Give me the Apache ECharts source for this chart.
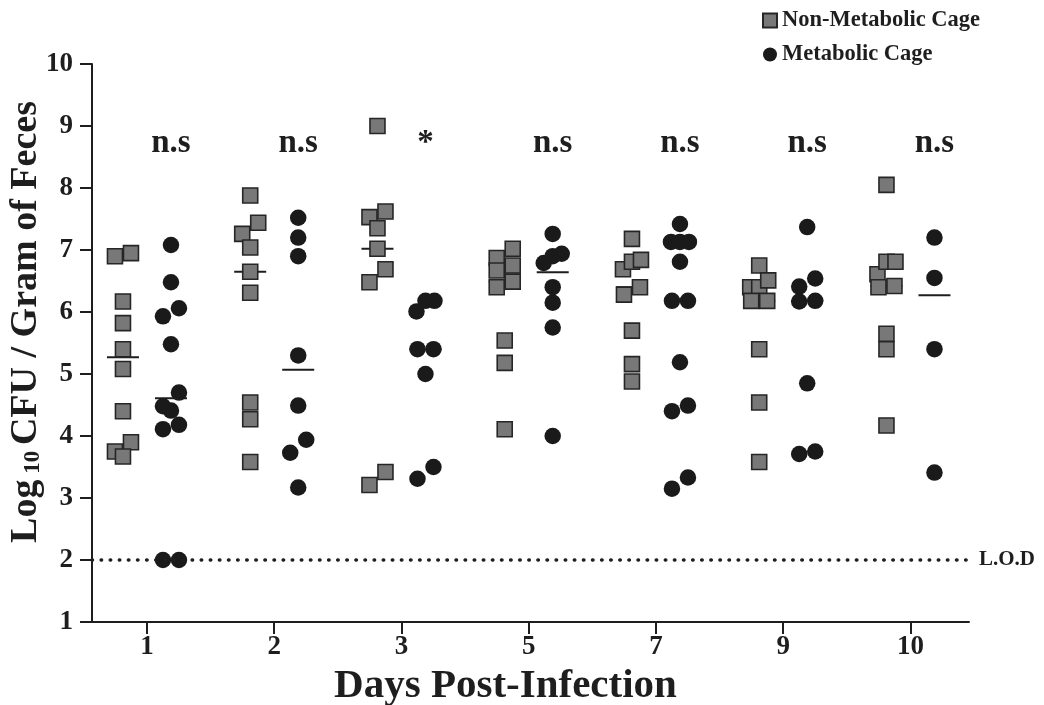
<!DOCTYPE html>
<html>
<head>
<meta charset="utf-8">
<script src="https://cdn.jsdelivr.net/npm/echarts@6/dist/echarts.min.js"></script>
<style>html,body{margin:0;padding:0;background:#fff}#c{width:1044px;height:705px}</style>
</head>
<body>
<div id="c"></div>
<script>
// ---- data ----
const days = ['1', '2', '3', '5', '7', '9', '10'];
const nonMetabolic = [
  [6.95, 6.90, 6.17, 5.82, 5.40, 5.08, 4.40, 3.90, 3.75, 3.67],
  [7.88, 7.44, 7.26, 7.04, 6.65, 6.31, 4.54, 4.27, 3.58],
  [9.00, 7.62, 7.53, 7.35, 7.02, 6.69, 6.48, 3.42, 3.21],
  [7.02, 6.87, 6.75, 6.67, 6.49, 6.40, 5.54, 5.18, 4.11],
  [7.18, 6.84, 6.81, 6.69, 6.40, 6.28, 5.70, 5.16, 4.88],
  [6.75, 6.51, 6.40, 6.40, 6.18, 6.18, 5.40, 4.54, 3.58],
  [8.05, 6.81, 6.81, 6.61, 6.42, 6.40, 5.65, 5.40, 4.17]
];
const metabolic = [
  [7.08, 6.48, 6.06, 5.93, 5.48, 4.70, 4.48, 4.41, 4.18, 4.11, 2.00, 2.00],
  [7.52, 7.20, 6.90, 5.30, 4.49, 3.94, 3.73, 3.17],
  [6.18, 6.18, 6.01, 5.40, 5.40, 5.00, 3.50, 3.31],
  [7.26, 6.94, 6.90, 6.79, 6.40, 6.15, 5.75, 4.00],
  [7.42, 7.13, 7.13, 7.13, 6.81, 6.18, 6.18, 5.19, 4.49, 4.40, 3.33, 3.15],
  [7.37, 6.54, 6.41, 6.18, 6.17, 4.85, 3.75, 3.71],
  [7.20, 6.55, 5.40, 3.41]
];
const nonMetabolicMedian = [5.27, 6.65, 7.02, 6.49, 6.40, 6.18, 6.42];
const metabolicMedian = [4.61, 5.07, 5.40, 6.64, 6.18, 6.18, 6.27];
const significance = ['n.s', 'n.s', '*', 'n.s', 'n.s', 'n.s', 'n.s'];
const lodValue = 2;
const yTicks = [1, 10, 1]; // min, max, step

// ---- layout / style ----
const FONT = 'Liberation Serif';
const INK = '#1e1e1e';
const SQ_SHIFT = -24, CI_SHIFT = 24;

// simple swarm: points whose values are close share a row and spread sideways
function swarm(groups, shift) {
  const out = [];
  groups.forEach((vals, di) => {
    const sorted = vals.slice().sort((a, b) => b - a);
    let i = 0;
    while (i < sorted.length) {
      let j = i + 1;
      while (j < sorted.length && sorted[i] - sorted[j] < 0.22) j++;
      const cluster = sorted.slice(i, j).reverse(); // ascending: higher to the right
      const n = cluster.length;
      const step = n === 2 ? 16 : 9;
      cluster.forEach((v, k) => {
        const dx = (k - (n - 1) / 2) * step;
        out.push({ value: [di, v], symbolOffset: [shift + dx, 0] });
      });
      i = j;
    }
  });
  return out;
}
function medianItems(arr, shift) {
  return arr.map((m, i) => ({ value: [i, m], symbolOffset: [shift, 0] }));
}

const chart = echarts.init(document.getElementById('c'), null, { renderer: 'canvas' });
const idx = days.map((d, i) => i);

const option = {
  animation: false,
  backgroundColor: '#ffffff',
  textStyle: { fontFamily: FONT },
  legend: {
    orient: 'vertical', left: 757, top: 4,
    itemWidth: 14, itemHeight: 14, itemGap: 11,
    textStyle: { fontFamily: FONT, fontWeight: 'bold', fontSize: 22.5, color: INK },
    data: ['Non-Metabolic Cage', 'Metabolic Cage']
  },
  grid: { left: 92, right: 75, top: 64, bottom: 83, containLabel: false, outerBoundsMode: 'none' },
  xAxis: {
    type: 'value', min: -0.432, max: 6.46,
    splitLine: { show: false },
    axisLine: { show: true, onZero: false, lineStyle: { color: INK, width: 2 } },
    axisTick: { show: true, customValues: idx, length: 12, lineStyle: { color: INK, width: 2 } },
    axisLabel: {
      customValues: idx, formatter: v => days[Math.round(v)],
      fontFamily: FONT, fontWeight: 'bold', fontSize: 27, color: INK, margin: 12
    },
    name: 'Days Post-Infection', nameLocation: 'middle', nameGap: 44, nameMoveOverlap: false,
    nameTextStyle: { fontFamily: FONT, fontWeight: 'bold', fontSize: 41, color: INK, padding: [0, 50, 0, 0] }
  },
  yAxis: {
    type: 'value', min: yTicks[0], max: yTicks[1], interval: yTicks[2],
    splitLine: { show: false },
    axisLine: { show: true, onZero: false, lineStyle: { color: INK, width: 2 } },
    axisTick: { show: true, length: 12, lineStyle: { color: INK, width: 2 } },
    axisLabel: { fontFamily: FONT, fontWeight: 'bold', fontSize: 27, color: INK, margin: 19 },
    name: '{a|Log}{sub| 10 }{a|CFU / Gram of Feces}',
    nameLocation: 'middle', nameGap: 47, nameRotate: 90, nameMoveOverlap: false,
    nameTextStyle: {
      padding: [0, 0, 0, 42],
      rich: {
        a: { fontFamily: FONT, fontWeight: 'bold', fontSize: 38, color: INK, lineHeight: 38 },
        sub: { fontFamily: FONT, fontWeight: 'bold', fontSize: 23, color: INK, lineHeight: 8, verticalAlign: 'bottom' }
      }
    }
  },
  series: [
    {
      name: 'medianNon', type: 'scatter', silent: true, z: 1,
      symbol: 'rect', symbolSize: [32, 2],
      itemStyle: { color: INK, opacity: 1 },
      data: medianItems(nonMetabolicMedian, SQ_SHIFT)
    },
    {
      name: 'medianMet', type: 'scatter', silent: true, z: 1,
      symbol: 'rect', symbolSize: [32, 2],
      itemStyle: { color: INK, opacity: 1 },
      data: medianItems(metabolicMedian, CI_SHIFT)
    },
    {
      name: 'Non-Metabolic Cage', type: 'scatter', z: 3,
      symbol: 'rect', symbolSize: 15,
      itemStyle: { color: '#787878', borderColor: '#262626', borderWidth: 1.6, opacity: 1 },
      data: swarm(nonMetabolic, SQ_SHIFT),
      markLine: {
        silent: true, symbol: ['none', 'none'],
        lineStyle: { color: INK, width: 3.5, type: [0.5, 8.6], cap: 'round', opacity: 1 },
        label: {
          show: true, position: 'end', formatter: 'L.O.D', distance: 10,
          fontFamily: FONT, fontWeight: 'bold', fontSize: 21, color: INK
        },
        data: [{ yAxis: lodValue }]
      }
    },
    {
      name: 'Metabolic Cage', type: 'scatter', z: 4,
      symbol: 'circle', symbolSize: 16.5,
      itemStyle: { color: '#1a1a1a', opacity: 1 },
      data: swarm(metabolic, CI_SHIFT)
    },
    {
      name: 'significance', type: 'scatter', silent: true, z: 5,
      symbol: 'rect', symbolSize: 1,
      itemStyle: { color: 'rgba(0,0,0,0)', opacity: 1 },
      label: {
        show: true, position: 'inside', opacity: 1,
        formatter: p => significance[p.dataIndex],
        fontFamily: FONT, fontWeight: 'bold', fontSize: 33, color: INK
      },
      data: significance.map((s, i) => ({ value: [i, 8.72], symbolOffset: [CI_SHIFT, 0] }))
    }
  ]
};
chart.setOption(option);
</script>
</body>
</html>
